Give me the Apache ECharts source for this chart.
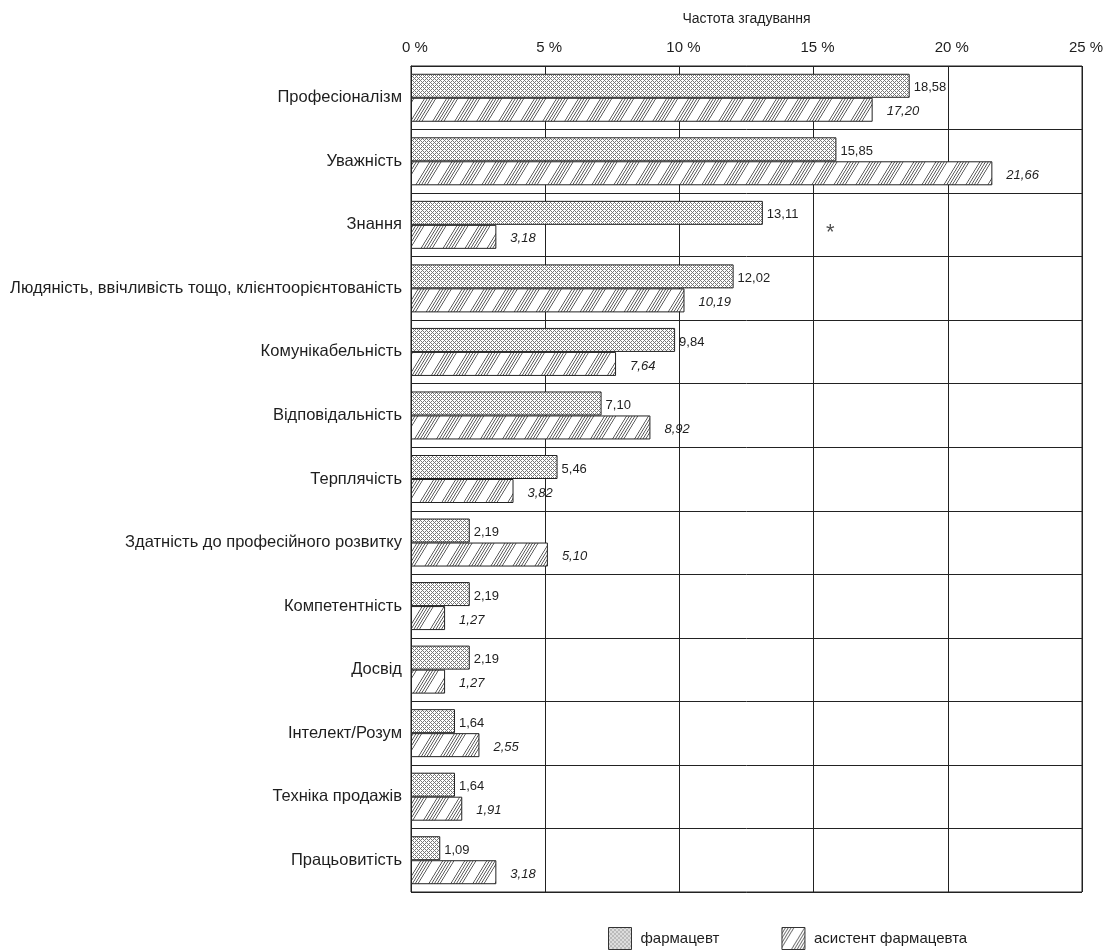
<!DOCTYPE html>
<html>
<head>
<meta charset="utf-8">
<script src="https://cdn.jsdelivr.net/npm/echarts@6/dist/echarts.min.js"></script>
<style>
  html, body { margin: 0; padding: 0; background: #fff; }
  #chart { width: 1103px; height: 950px; }
</style>
</head>
<body>
<div id="chart"></div>
<script>
// Qualities named by respondents, top to bottom
const categories = [
  'Професіоналізм',
  'Уважність',
  'Знання',
  'Людяність, ввічливість тощо, клієнтоорієнтованість',
  'Комунікабельність',
  'Відповідальність',
  'Терплячість',
  'Здатність до професійного розвитку',
  'Компетентність',
  'Досвід',
  'Інтелект/Розум',
  'Техніка продажів',
  'Працьовитість'
];

// Frequency of mention, %
const pharmacist = [18.58, 15.85, 13.11, 12.02, 9.84, 7.10, 5.46, 2.19, 2.19, 2.19, 1.64, 1.64, 1.09];
const assistant  = [17.20, 21.66, 3.18, 10.19, 7.64, 8.92, 3.82, 5.10, 1.27, 1.27, 2.55, 1.91, 3.18];

const seriesNames = ['фармацевт', 'асистент фармацевта'];
const axisTicks = [0, 5, 10, 15, 20, 25];
const axisTitle = 'Частота згадування';

// Significance marker placed in the "Знання" row
const markers = [[15.62, 'Знання', '*']];

const FONT = '"Liberation Sans", Arial, sans-serif';
const INK = '#1e1e1e';

// Fine diagonal cross-hatch tile
function crossHatch() {
  const c = document.createElement('canvas');
  c.width = 4; c.height = 4;
  const ctx = c.getContext('2d');
  const img = ctx.createImageData(4, 4);
  for (let y = 0; y < 4; y++) {
    for (let x = 0; x < 4; x++) {
      const dark = ((x + y) % 4 === 0) || (((x - y) % 4 + 4) % 4 === 0);
      const v = dark ? 120 : 255;
      const i = (y * 4 + x) * 4;
      img.data[i] = v; img.data[i + 1] = v; img.data[i + 2] = v; img.data[i + 3] = 255;
    }
  }
  ctx.putImageData(img, 0, 0);
  return c;
}

// Groups of thin steep diagonal lines separated by white bands
function stripeHatch() {
  const W = 22, H = 36;
  const c = document.createElement('canvas');
  c.width = W; c.height = H;
  const ctx = c.getContext('2d');
  const img = ctx.createImageData(W, H);
  const lines = [0.8, 3.6, 6.4, 9.2, 12.0];
  for (let y = 0; y < H; y++) {
    for (let x = 0; x < W; x++) {
      const u = ((x + 0.5 + (y + 0.5) * W / H) % W + W) % W;
      let cov = 0;
      for (const l of lines) {
        let d = Math.abs(u - l);
        d = Math.min(d, W - d);
        cov = Math.max(cov, Math.max(0, 1 - d / 0.9));
      }
      const v = Math.round(255 - 180 * cov);
      const i = (y * W + x) * 4;
      img.data[i] = v; img.data[i + 1] = v; img.data[i + 2] = v; img.data[i + 3] = 255;
    }
  }
  ctx.putImageData(img, 0, 0);
  return c;
}

const fmt = v => v.toFixed(2).replace('.', ',');

const chart = echarts.init(document.getElementById('chart'), null, { renderer: 'canvas' });

chart.setOption({
  animation: false,
  backgroundColor: '#fff',
  textStyle: { fontFamily: FONT, color: INK },
  grid: {
    left: 411, right: 21, top: 66, bottom: 58,
    show: true, borderColor: '#222', borderWidth: 1,
    containLabel: false, outerBoundsMode: 'none'
  },
  legend: {
    data: seriesNames,
    top: 922,
    left: 603,
    itemWidth: 23,
    itemHeight: 22,
    itemGap: 62,
    icon: 'rect',
    itemStyle: { borderWidth: 1, borderColor: '#333' },
    textStyle: { fontFamily: FONT, fontSize: 15, color: INK, padding: [4, 0, 0, 4] }
  },
  xAxis: {
    type: 'value',
    position: 'top',
    min: axisTicks[0],
    max: axisTicks[axisTicks.length - 1],
    interval: axisTicks[1] - axisTicks[0],
    name: axisTitle,
    nameLocation: 'middle',
    nameGap: 40,
    nameTextStyle: { fontFamily: FONT, fontSize: 14, color: INK },
    axisLine: { show: true, lineStyle: { color: '#222' } },
    axisTick: { show: false },
    axisLabel: {
      fontFamily: FONT, fontSize: 15, color: INK, margin: 11,
      padding: [0, 0, 0, 8], formatter: '{value} %'
    },
    splitLine: { show: true, lineStyle: { color: '#222', width: 1 } }
  },
  yAxis: {
    type: 'category',
    data: categories,
    inverse: true,
    axisLine: { show: true, lineStyle: { color: '#222' } },
    axisTick: { show: false },
    axisLabel: { fontFamily: FONT, fontSize: 16.5, color: INK, margin: 9, padding: [3, 0, 0, 0] },
    splitLine: { show: true, lineStyle: { color: '#222', width: 1 } }
  },
  series: [
    {
      name: seriesNames[0],
      type: 'bar',
      data: pharmacist,
      barWidth: 24,
      barGap: '0%',
      itemStyle: { color: { image: crossHatch(), repeat: 'repeat' }, borderColor: '#222', borderWidth: 1 },
      label: {
        show: true, position: 'right', distance: 4, offset: [0, 2],
        fontFamily: FONT, fontSize: 13, color: INK,
        formatter: p => fmt(p.value)
      }
    },
    {
      name: seriesNames[1],
      type: 'bar',
      data: assistant,
      barWidth: 24,
      itemStyle: { color: { image: stripeHatch(), repeat: 'repeat' }, borderColor: '#222', borderWidth: 1 },
      label: {
        show: true, position: 'right', distance: 14, offset: [0, 2],
        fontFamily: FONT, fontSize: 13, fontStyle: 'italic', color: INK,
        formatter: p => fmt(p.value)
      }
    },
    {
      name: 'marker',
      type: 'scatter',
      data: markers.map(m => [m[0], m[1]]),
      symbolSize: 0,
      silent: true,
      label: {
        show: true, position: 'inside', offset: [0, 8],
        fontFamily: FONT, fontSize: 22, color: INK,
        formatter: p => markers[p.dataIndex][2]
      }
    }
  ]
});
</script>
</body>
</html>
